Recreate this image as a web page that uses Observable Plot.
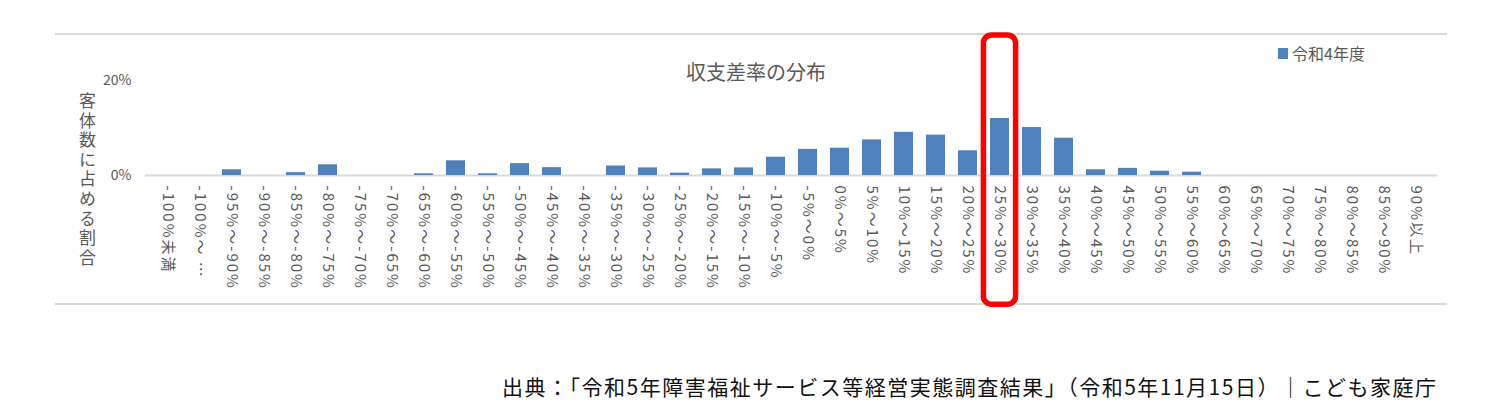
<!DOCTYPE html>
<html>
<head>
<meta charset="utf-8">
<script src="https://cdn.jsdelivr.net/npm/d3@7"></script>
<script src="https://cdn.jsdelivr.net/npm/@observablehq/plot@0.6"></script>
<style>
  html, body { margin: 0; padding: 0; background: #fff; }
  #wrap { position: relative; width: 1500px; height: 419px; overflow: hidden; font-family: "Noto Sans CJK JP", sans-serif; color: #595959; }
  #frame { position: absolute; left: 55px; top: 33px; width: 1392px; height: 268px; border-top: 2px solid #d9d9d9; border-bottom: 2px solid #d9d9d9; }
  #chart { position: absolute; left: 0; top: 0; }
  #title { position: absolute; left: 656px; width: 200px; text-align: center; top: 58px; font-size: 20px; line-height: 28px; }
  #legend { position: absolute; left: 1278px; top: 41px; font-size: 16px; line-height: 24px; display: flex; align-items: center; }
  #legend .sw { width: 10px; height: 11px; background: #4f81bd; margin-right: 4px; }
  #ylabel { position: absolute; left: 76px; top: 92px; writing-mode: vertical-rl; text-orientation: upright; font-size: 17px; letter-spacing: 2.6px; line-height: 22px; }
  #caption { position: absolute; left: 502px; top: 371px; font-size: 21px; letter-spacing: 1.5px; line-height: 30px; color: #111; white-space: nowrap; }
  g[aria-label="x-axis tick label"] text { letter-spacing: 2px; }
</style>
</head>
<body>
<div id="wrap">
  <div id="frame"></div>
  <div id="chart"></div>
  <div id="title"></div>
  <div id="legend"><div class="sw"></div><span id="legendText"></span></div>
  <div id="ylabel"></div>
  <div id="caption"></div>
</div>
<script>
const categories = [
  "-100%未満", "-100%～ …", "-95%～-90%", "-90%～-85%", "-85%～-80%", "-80%～-75%",
  "-75%～-70%", "-70%～-65%", "-65%～-60%", "-60%～-55%", "-55%～-50%", "-50%～-45%",
  "-45%～-40%", "-40%～-35%", "-35%～-30%", "-30%～-25%", "-25%～-20%", "-20%～-15%",
  "-15%～-10%", "-10%～-5%", "-5%～0%", "0%～5%", "5%～10%", "10%～15%", "15%～20%",
  "20%～25%", "25%～30%", "30%～35%", "35%～40%", "40%～45%", "45%～50%", "50%～55%",
  "55%～60%", "60%～65%", "65%～70%", "70%～75%", "75%～80%", "80%～85%", "85%～90%", "90%以上"
];
const values = [
  0, 0, 1.2, 0, 0.6, 2.25,
  0, 0, 0.35, 3.1, 0.35, 2.5,
  1.65, 0, 2.0, 1.6, 0.5, 1.4,
  1.6, 3.85, 5.5, 5.75, 7.5, 9.1, 8.5,
  5.2, 12.0, 10.1, 7.85, 1.2, 1.5, 0.9,
  0.7, 0, 0, 0, 0, 0, 0, 0
];
const yTicks = [0, 20];
const seriesName = "令和4年度";
const titleText = "収支差率の分布";
const yLabelText = "客体数に占める割合";
const captionText = "出典：「令和5年障害福祉サービス等経営実態調査結果」（令和5年11月15日）｜こども家庭庁";
const highlightCategory = ["25%～30%"];
const highlightSpan = [-27.2, 29.5];

const data = categories.map((c, i) => ({category: c, value: values[i]}));
const highlight = highlightCategory.map(c => ({category: c, y1: highlightSpan[0], y2: highlightSpan[1]}));

const plot = Plot.plot({
  width: 1500,
  height: 340,
  marginLeft: 145,
  marginRight: 63,
  marginTop: 80,
  marginBottom: 165,
  style: {background: "transparent", fontFamily: "'Noto Sans CJK JP', sans-serif", color: "#595959"},
  x: {domain: categories, paddingInner: 0.41, paddingOuter: 0.205, label: null},
  y: {domain: [0, 20], label: null},
  marks: [
    Plot.axisY({ticks: yTicks, tickFormat: d => d + "%", tickSize: 0, tickPadding: 14, fontSize: 14, label: null, fill: "#595959"}),
    Plot.axisX({tickRotate: 90, tickSize: 0, tickPadding: 10, fontSize: 15, label: null, fill: "#595959"}),
    Plot.ruleY([0], {stroke: "#d9d9d9", strokeWidth: 2}),
    Plot.barY(data, {x: "category", y: "value", fill: "#4f81bd"}),
    Plot.barY(highlight, {x: "category", y1: "y1", y2: "y2", fill: "none", stroke: "#ff0000", strokeWidth: 5.5, rx: 8, insetLeft: -6.6, insetRight: -6.6})
  ]
});
document.getElementById("chart").appendChild(plot);
document.getElementById("title").textContent = titleText;
document.getElementById("legendText").textContent = seriesName;
document.getElementById("ylabel").textContent = yLabelText;
document.getElementById("caption").textContent = captionText;
</script>
</body>
</html>
